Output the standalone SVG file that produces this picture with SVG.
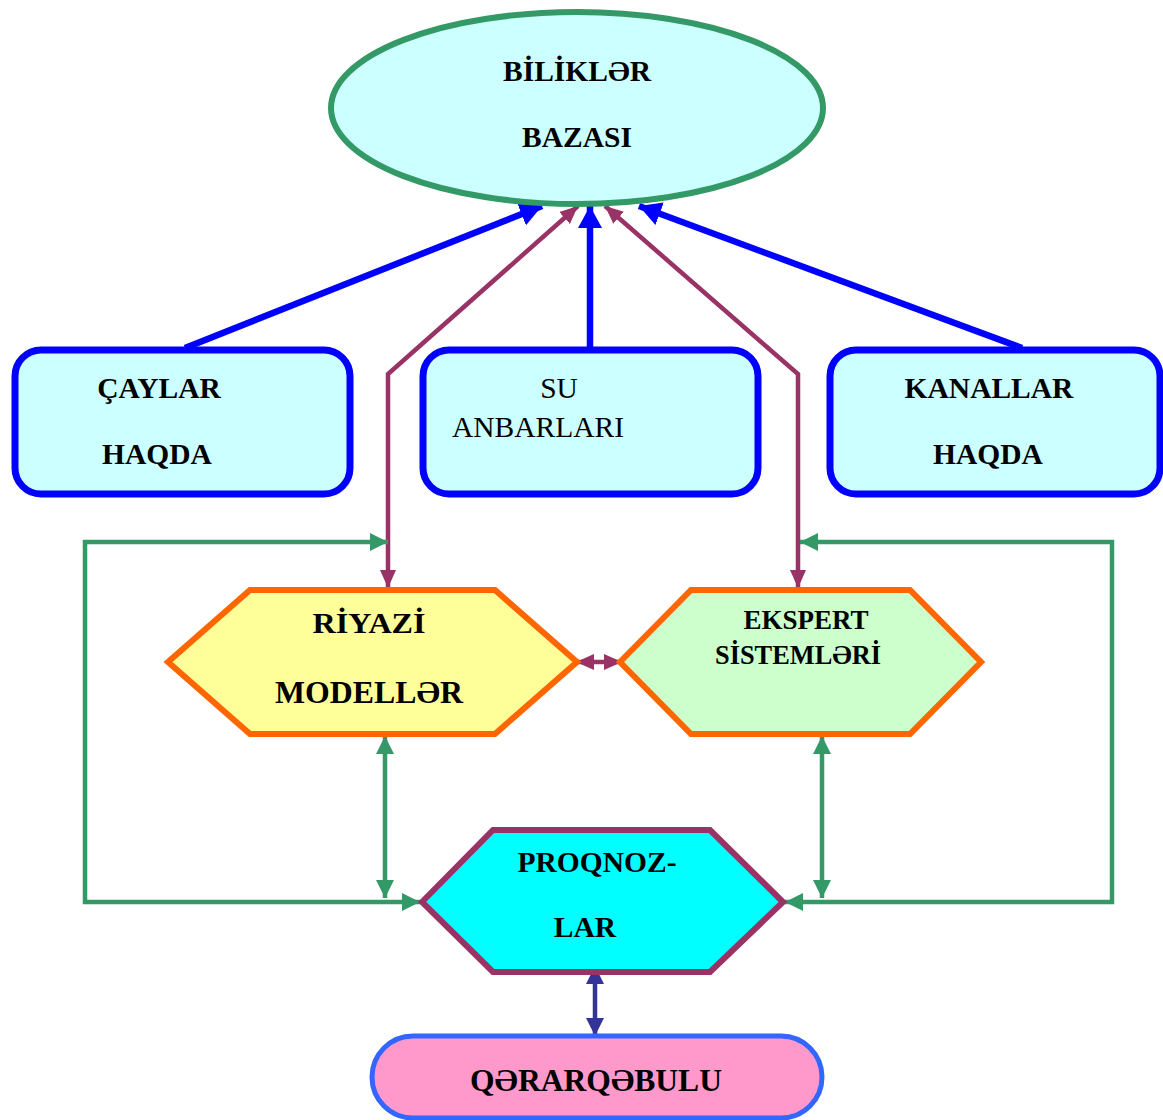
<svg xmlns="http://www.w3.org/2000/svg" width="1163" height="1120" viewBox="0 0 1163 1120">
  <style>
    .t { font-family: "Liberation Serif", "Times New Roman", serif; font-size: 29.5px; fill: #000; text-anchor: middle; }
    .b { font-weight: bold; }
    .wide { font-size: 31px; }
    .src { fill: #CCFFFF; stroke: #0000FF; stroke-width: 7; }
    .blue { stroke: #0000FF; stroke-width: 6.5; fill: none; }
    .plum { stroke: #993366; stroke-width: 4.5; fill: none; }
    .green { stroke: #339966; stroke-width: 4.5; fill: none; }
    .navy { stroke: #333399; stroke-width: 4.5; fill: none; }
  </style>
  <defs>
    <marker id="ahBlue" markerUnits="userSpaceOnUse" viewBox="0 0 22 24" refX="22" refY="12" markerWidth="22" markerHeight="24" orient="auto">
      <path d="M0,0 L22,12 L0,24 Z" fill="#0000FF"/>
    </marker>
    <marker id="ahPlum" markerUnits="userSpaceOnUse" viewBox="0 0 18 16" refX="18" refY="8" markerWidth="18" markerHeight="16" orient="auto-start-reverse">
      <path d="M0,0 L18,8 L0,16 Z" fill="#993366"/>
    </marker>
    <marker id="ahGreen" markerUnits="userSpaceOnUse" viewBox="0 0 18 18" refX="18" refY="9" markerWidth="18" markerHeight="18" orient="auto-start-reverse">
      <path d="M0,0 L18,9 L0,18 Z" fill="#339966"/>
    </marker>
    <marker id="ahNavy" markerUnits="userSpaceOnUse" viewBox="0 0 18 18" refX="18" refY="9" markerWidth="18" markerHeight="18" orient="auto-start-reverse">
      <path d="M0,0 L18,9 L0,18 Z" fill="#333399"/>
    </marker>
  </defs>

  <!-- connectors -->
  <g id="connectors">
    <!-- source boxes feed the knowledge base -->
    <line class="blue" x1="185" y1="348" x2="542" y2="206" marker-end="url(#ahBlue)"/>
    <line class="blue" x1="590" y1="348" x2="590" y2="206" marker-end="url(#ahBlue)"/>
    <line class="blue" x1="1022" y1="348" x2="639" y2="206" marker-end="url(#ahBlue)"/>

    <!-- knowledge base <-> models / expert systems -->
    <polyline class="plum" points="578,206 388,374 388,588" marker-start="url(#ahPlum)" marker-end="url(#ahPlum)"/>
    <polyline class="plum" points="605,206 798,374 798,588" marker-start="url(#ahPlum)" marker-end="url(#ahPlum)"/>
    <line class="plum" x1="576" y1="662" x2="622" y2="662" marker-start="url(#ahPlum)" marker-end="url(#ahPlum)"/>

    <!-- feedback loops -->
    <polyline class="green" points="388,542 85,542 85,902 420,902" marker-start="url(#ahGreen)" marker-end="url(#ahGreen)"/>
    <polyline class="green" points="800,542 1112,542 1112,902 785,902" marker-start="url(#ahGreen)" marker-end="url(#ahGreen)"/>
    <line class="green" x1="385" y1="736" x2="385" y2="898" marker-start="url(#ahGreen)" marker-end="url(#ahGreen)"/>
    <line class="green" x1="822" y1="736" x2="822" y2="898" marker-start="url(#ahGreen)" marker-end="url(#ahGreen)"/>

    <!-- forecasts <-> decision -->
    <line class="navy" x1="595" y1="966" x2="595" y2="1036" marker-start="url(#ahNavy)" marker-end="url(#ahNavy)"/>
  </g>

  <!-- knowledge base -->
  <g id="node-bilikler-bazasi">
    <ellipse cx="577" cy="108" rx="246" ry="96" fill="#CCFFFF" stroke="#339966" stroke-width="6"/>
    <text class="t b" x="577" y="81" textLength="148" lengthAdjust="spacingAndGlyphs">BİLİKLƏR</text>
    <text class="t b" x="577" y="147">BAZASI</text>
  </g>

  <!-- data sources -->
  <g id="node-caylar">
    <rect class="src" x="15" y="350" width="335" height="144" rx="26"/>
    <text class="t b" x="159" y="398">ÇAYLAR</text>
    <text class="t b" x="157" y="464">HAQDA</text>
  </g>
  <g id="node-su-anbarlari">
    <rect class="src" x="423" y="350" width="335" height="144" rx="26"/>
    <text class="t" x="559" y="398">SU</text>
    <text class="t" x="538" y="437">ANBARLARI</text>
  </g>
  <g id="node-kanallar">
    <rect class="src" x="830" y="350" width="330" height="144" rx="26"/>
    <text class="t b" x="989" y="398">KANALLAR</text>
    <text class="t b" x="988" y="464">HAQDA</text>
  </g>

  <!-- processing -->
  <g id="node-riyazi-modeller">
    <polygon points="168,662 250,590 495,590 577,662 495,734 250,734" fill="#FFFF99" stroke="#FF6600" stroke-width="6"/>
    <text class="t b" x="369" y="633" textLength="113" lengthAdjust="spacingAndGlyphs">RİYAZİ</text>
    <text class="t b wide" x="369" y="703" textLength="188" lengthAdjust="spacingAndGlyphs">MODELLƏR</text>
  </g>
  <g id="node-ekspert-sistemleri">
    <polygon points="620,662 691,590 910,590 981,662 910,734 691,734" fill="#CCFFCC" stroke="#FF6600" stroke-width="6"/>
    <text class="t b" x="806" y="629" style="font-size:27px">EKSPERT</text>
    <text class="t b" x="798" y="664" style="font-size:27px" textLength="166" lengthAdjust="spacingAndGlyphs">SİSTEMLƏRİ</text>
  </g>

  <!-- forecasts -->
  <g id="node-proqnozlar">
    <polygon points="422,902 493,830 710,830 783,902 710,972 493,972" fill="#00FFFF" stroke="#993366" stroke-width="6"/>
    <text class="t b" x="597" y="872">PROQNOZ-</text>
    <text class="t b" x="585" y="937">LAR</text>
  </g>

  <!-- decision -->
  <g id="node-qerarqebulu">
    <rect x="372" y="1036" width="450" height="82" rx="41" fill="#FF99CC" stroke="#3366FF" stroke-width="5"/>
    <text class="t b wide" x="596" y="1091" textLength="252" lengthAdjust="spacingAndGlyphs">QƏRARQƏBULU</text>
  </g>
</svg>
